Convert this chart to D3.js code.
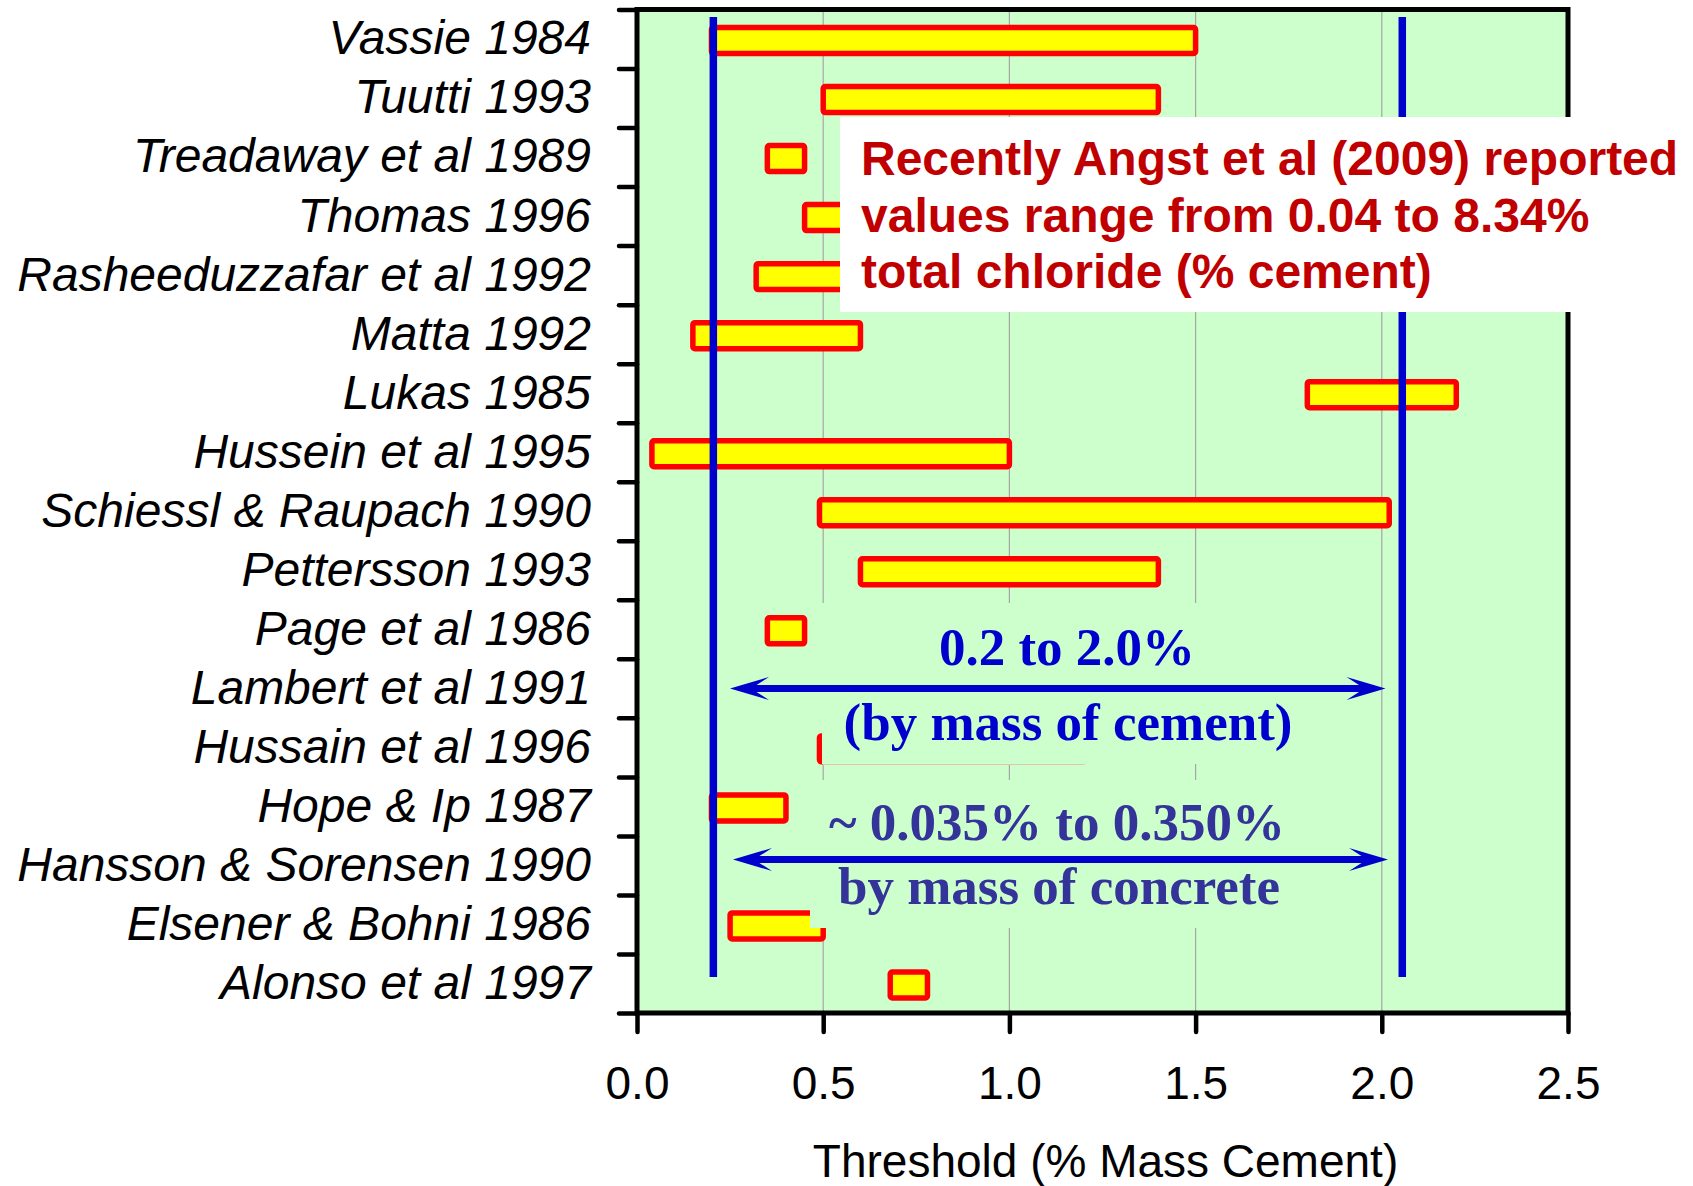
<!DOCTYPE html>
<html>
<head>
<meta charset="utf-8">
<script src="https://cdn.jsdelivr.net/npm/d3@7"></script>
<style>
  html, body { margin: 0; padding: 0; background: #ffffff; }
  svg { display: block; }
</style>
</head>
<body>
<svg id="chart" width="1693" height="1186"></svg>
<script>
// Published chloride threshold ranges (% by mass of cement)
const studies = [
  "Vassie 1984", "Tuutti 1993", "Treadaway et al 1989", "Thomas 1996",
  "Rasheeduzzafar et al 1992", "Matta 1992", "Lukas 1985", "Hussein et al 1995",
  "Schiessl & Raupach 1990", "Pettersson 1993", "Page et al 1986",
  "Lambert et al 1991", "Hussain et al 1996", "Hope & Ip 1987",
  "Hansson & Sorensen 1990", "Elsener & Bohni 1986", "Alonso et al 1997"
];
const lowValues  = [0.20, 0.50, 0.35, 0.45, 0.32, 0.15, 1.80, 0.04, 0.49, 0.60, 0.35, null, 0.49, 0.20, null, 0.25, 0.68];
const highValues = [1.50, 1.40, 0.45, 0.60, 0.80, 0.60, 2.20, 1.00, 2.02, 1.40, 0.45, null, 0.70, 0.40, null, 0.50, 0.78];

const xTicks = [0.0, 0.5, 1.0, 1.5, 2.0, 2.5];
const gridValues = [0.5, 1.0, 1.5, 2.0];
const rangeLines = [0.205, 2.055];        // vertical bounds of the commonly quoted range
const noteLines = [
  "Recently Angst et al (2009) reported",
  "values range from 0.04 to 8.34%",
  "total chloride (% cement)"
];
const cementLabel = ["0.2 to 2.0%", "(by mass of cement)"];
const concreteLabel = ["~ 0.035% to 0.350%", "by mass of concrete"];
const xTitle = "Threshold (% Mass Cement)";

const svg = d3.select("#chart");
const plotLeft = 637, plotRight = 1568, plotTop = 9.5, plotBottom = 1013;

const x = d3.scaleLinear().domain([0, 2.5]).range([plotLeft, plotRight]);
const y = d3.scaleBand().domain(studies).range([plotTop + 1.5, plotBottom + 1.5]);
const yEdge = d3.scaleLinear().domain([0, studies.length]).range([plotTop, plotBottom]);

const sans = "'Liberation Sans', Arial, Helvetica, sans-serif";
const serif = "'Liberation Serif', 'Times New Roman', Times, serif";

// plot background
svg.append("rect")
  .attr("x", plotLeft).attr("y", plotTop)
  .attr("width", plotRight - plotLeft).attr("height", plotBottom - plotTop)
  .attr("fill", "#ccffcc");

// vertical grid lines
svg.append("g").selectAll("line").data(gridValues).join("line")
  .attr("x1", d => x(d)).attr("x2", d => x(d))
  .attr("y1", plotTop).attr("y2", plotBottom)
  .attr("stroke", "#a6a6a6").attr("stroke-width", 1.2);

// range bars
const rows = studies.map((s, i) => ({ name: s, lo: lowValues[i], hi: highValues[i] }))
  .filter(d => d.lo != null && d.hi != null);
const barH = y.bandwidth() * 0.44;
svg.append("g").selectAll("rect").data(rows).join("rect")
  .attr("x", d => x(d.lo))
  .attr("width", d => x(d.hi) - x(d.lo))
  .attr("y", d => y(d.name) + y.bandwidth() / 2 - barH / 2)
  .attr("height", barH)
  .attr("rx", 2)
  .attr("fill", "#ffff00")
  .attr("stroke", "#ff0000")
  .attr("stroke-width", 5.5);

// bounding vertical lines
svg.append("g").selectAll("line").data(rangeLines).join("line")
  .attr("x1", d => x(d)).attr("x2", d => x(d))
  .attr("y1", 17).attr("y2", 977)
  .attr("stroke", "#0000cc").attr("stroke-width", 7.5);

// label panels in the plot colour behind the range annotations
svg.append("rect").attr("x", 822).attr("y", 603).attr("width", 480).attr("height", 161).attr("fill", "#ccffcc");
svg.append("rect").attr("x", 810).attr("y", 780).attr("width", 492).attr("height", 148).attr("fill", "#ccffcc");
svg.append("line").attr("x1", 823).attr("x2", 1085).attr("y1", 764.5).attr("y2", 764.5)
  .attr("stroke", "#e3c7ad").attr("stroke-width", 1);

// frame
svg.append("rect")
  .attr("x", plotLeft).attr("y", plotTop)
  .attr("width", plotRight - plotLeft).attr("height", plotBottom - plotTop)
  .attr("fill", "none").attr("stroke", "#000").attr("stroke-width", 5);

// left axis ticks at category boundaries
const yAxis = d3.axisLeft(yEdge).tickValues(d3.range(0, studies.length + 1)).tickSize(18).tickFormat("");
const gy = svg.append("g").attr("transform", `translate(${plotLeft},0)`).call(yAxis);
gy.select(".domain").remove();
gy.selectAll(".tick line").attr("stroke", "#000").attr("stroke-width", 4.5).attr("stroke-linecap", "round");

// category labels
svg.append("g").selectAll("text").data(studies).join("text")
  .attr("x", 591)
  .attr("y", d => y(d) + y.bandwidth() / 2)
  .attr("dy", "0.29em")
  .attr("text-anchor", "end")
  .attr("font-family", sans)
  .attr("font-style", "italic")
  .attr("font-size", 48)
  .attr("fill", "#000")
  .text(d => d);

// bottom axis
const xAxis = d3.axisBottom(x).tickValues(xTicks).tickSize(19).tickPadding(34).tickFormat(d3.format(".1f"));
const gx = svg.append("g").attr("transform", `translate(0,${plotBottom})`).call(xAxis);
gx.select(".domain").remove();
gx.selectAll(".tick line").attr("stroke", "#000").attr("stroke-width", 4.5).attr("stroke-linecap", "round");
gx.selectAll(".tick text")
  .attr("font-family", sans).attr("font-size", 46).attr("fill", "#000");

// axis title
svg.append("text")
  .attr("x", (plotLeft + plotRight) / 2 + 3).attr("y", 1177)
  .attr("text-anchor", "middle")
  .attr("font-family", sans).attr("font-size", 46).attr("fill", "#000")
  .text(xTitle);

// note box
svg.append("rect").attr("x", 840).attr("y", 117).attr("width", 853).attr("height", 195).attr("fill", "#ffffff");
svg.append("g").selectAll("text").data(noteLines).join("text")
  .attr("x", 861)
  .attr("y", (d, i) => 175 + i * 56.5)
  .attr("font-family", sans).attr("font-weight", "bold").attr("font-size", 48)
  .attr("fill", "#c00000")
  .text(d => d);

// double-headed arrows spanning the range
function arrow(x1, x2, yy) {
  const g = svg.append("g").attr("fill", "#0000cc");
  g.append("line").attr("x1", x1 + 20).attr("x2", x2 - 20).attr("y1", yy).attr("y2", yy)
    .attr("stroke", "#0000cc").attr("stroke-width", 7);
  g.append("path").attr("d", `M${x1},${yy} L${x1 + 39},${yy - 11.5} L${x1 + 21},${yy} L${x1 + 39},${yy + 11.5} Z`);
  g.append("path").attr("d", `M${x2},${yy} L${x2 - 39},${yy - 11.5} L${x2 - 21},${yy} L${x2 - 39},${yy + 11.5} Z`);
}
arrow(730, 1385.5, 688.5);
arrow(733, 1388, 859.5);

// range annotations
svg.append("text").attr("x", 1067).attr("y", 665).attr("text-anchor", "middle")
  .attr("font-family", serif).attr("font-weight", "bold").attr("font-size", 53)
  .attr("fill", "#0000cc").text(cementLabel[0]);
svg.append("text").attr("x", 1068).attr("y", 740).attr("text-anchor", "middle")
  .attr("font-family", serif).attr("font-weight", "bold").attr("font-size", 53)
  .attr("fill", "#0000cc").text(cementLabel[1]);
svg.append("text").attr("x", 1057).attr("y", 840).attr("text-anchor", "middle")
  .attr("font-family", serif).attr("font-weight", "bold").attr("font-size", 53)
  .attr("fill", "#333399").text(concreteLabel[0]);
svg.append("text").attr("x", 1059).attr("y", 904).attr("text-anchor", "middle")
  .attr("font-family", serif).attr("font-weight", "bold").attr("font-size", 53)
  .attr("fill", "#333399").text(concreteLabel[1]);
</script>
</body>
</html>
